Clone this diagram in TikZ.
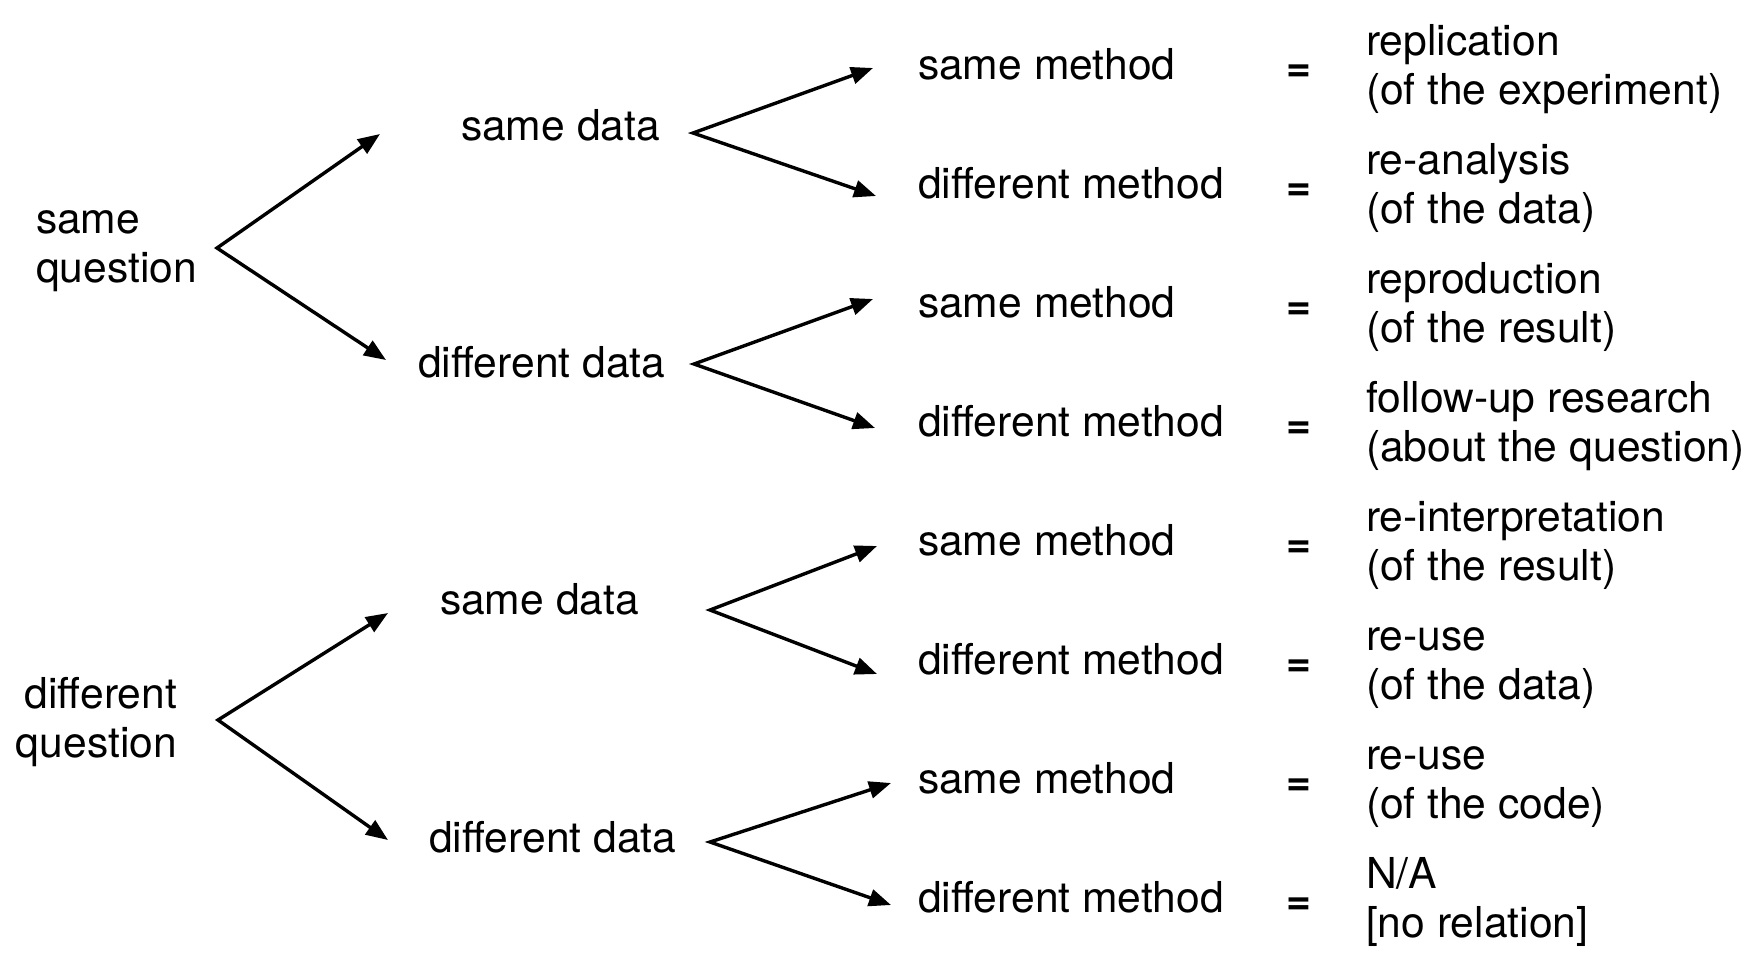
\documentclass[tikz,border=0pt]{standalone}
\usepackage{fontspec}
\setmainfont{TeX Gyre Heros}
\usetikzlibrary{arrows.meta}
\begin{document}
\begin{tikzpicture}[x=0.5pt,y=-0.5pt,
  lbl/.style={inner sep=0pt, outer sep=0pt, font=\fontsize{21.3}{24.5}\selectfont},
  bw/.style={lbl, anchor=base west, align=left},
  res/.style={lbl, anchor=base west, align=left},
  eqs/.style={lbl, anchor=base west, font=\fontsize{21.3}{24.5}\selectfont\bfseries},
  fork/.style={line width=1.7pt, line join=miter, {Triangle[length=11pt,width=8.5pt]}-{Triangle[length=11pt,width=8.5pt]}}]
\useasboundingbox (0,0) rectangle (1761,960);

% level 1 (base anchor = last line)
\node[bw] (sq) at (36,282) {same\\question};
\node[lbl, anchor=base east, align=right] (dq) at (177,757) {different\\question};

% level 2
\node[bw] (sd1) at (461,140) {same data};
\node[bw] (dd1) at (418,377) {different data};
\node[bw] (sd2) at (440,614) {same data};
\node[bw] (dd2) at (429,852) {different data};

% methods, equals, results
\foreach \i/\b/\m/\r in {
  1/81/same method/{replication\\(of the experiment)},
  2/200/different method/{re-analysis\\(of the data)},
  3/319/same method/{reproduction\\(of the result)},
  4/438/different method/{follow-up research\\(about the question)},
  5/557/same method/{re-interpretation\\(of the result)},
  6/676/different method/{re-use\\(of the data)},
  7/795/same method/{re-use\\(of the code)},
  8/914/different method/{N/A\\{[no relation]}}}{
  \node[bw] (m\i) at (918,\b-2) {\m};
  \node[eqs] (eq\i) at (1286,\b) {=};
  \node[res] (r\i) at (1366,\b+23) {\r};
}

% fork points and arrow tips
\coordinate (jq1) at (217,248);
\coordinate (tq1a) at (380,134);
\coordinate (tq1b) at (386,360);
\coordinate (jq2) at (218,720);
\coordinate (tq2a) at (388,613);
\coordinate (tq2b) at (388,840);

\coordinate (jd1) at (693,133);
\coordinate (td1a) at (873,68);
\coordinate (td1b) at (876,196);
\coordinate (jd2) at (694,364);
\coordinate (td2a) at (873,299);
\coordinate (td2b) at (875,428);
\coordinate (jd3) at (710,610);
\coordinate (td3a) at (877,546);
\coordinate (td3b) at (877,674);
\coordinate (jd4) at (710,842);
\coordinate (td4a) at (891,783);
\coordinate (td4b) at (891,905);

\draw[fork] (tq1a) -- (jq1) -- (tq1b);
\draw[fork] (tq2a) -- (jq2) -- (tq2b);
\draw[fork] (td1a) -- (jd1) -- (td1b);
\draw[fork] (td2a) -- (jd2) -- (td2b);
\draw[fork] (td3a) -- (jd3) -- (td3b);
\draw[fork] (td4a) -- (jd4) -- (td4b);
\end{tikzpicture}
\end{document}
